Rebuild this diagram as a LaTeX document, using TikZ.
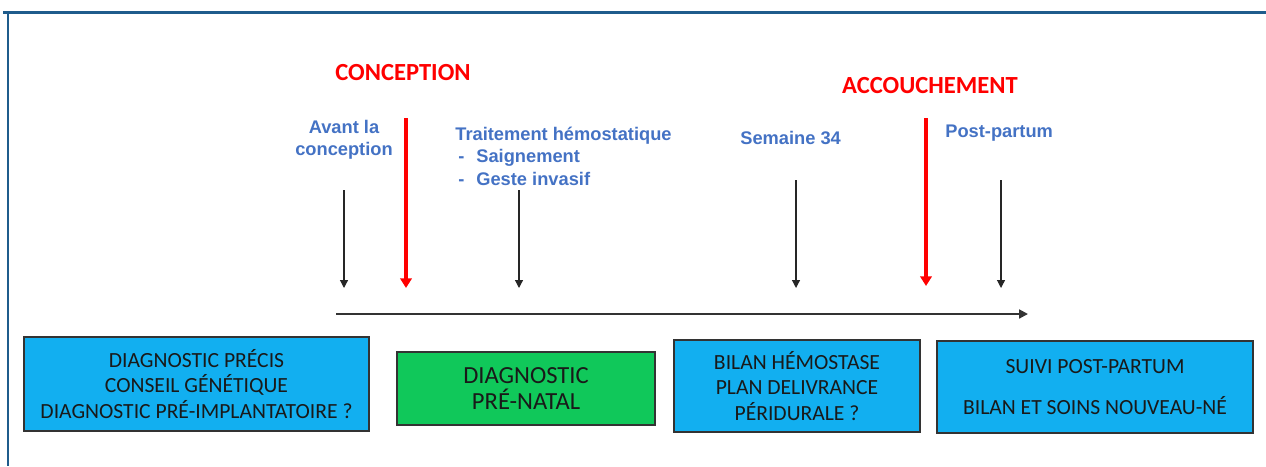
\documentclass[tikz,border=0pt]{standalone}
\usepackage{fontspec}
\setmainfont{Carlito}
\newfontfamily\arialb{Liberation Sans}[BoldFont={* Bold}]
\usetikzlibrary{arrows.meta,shadows}
\definecolor{frameblue}{RGB}{31,92,140}
\definecolor{boxblue}{RGB}{18,175,240}
\definecolor{boxgreen}{RGB}{16,200,90}
\definecolor{lblblue}{RGB}{68,114,196}
\definecolor{mred}{RGB}{255,0,0}
\tikzset{
  frameline/.style={draw=frameblue,line width=1.2pt},
  phase/.style={draw=black!80,line width=0.6pt,fill=boxblue,align=center,inner sep=0pt,
    font=\fontsize{12.3}{14.6}\selectfont,text=black!90,
    drop shadow={opacity=0.25,shadow xshift=0.8pt,shadow yshift=-0.8pt}},
  greenphase/.style={phase,fill=boxgreen,font=\fontsize{14}{14.4}\selectfont},
  event/.style={text=mred,font=\fontsize{14}{16}\bfseries\selectfont},
  lbl/.style={text=lblblue,inner sep=0pt,font=\arialb\fontsize{10.4}{12.3}\bfseries\selectfont},
  tick/.style={draw=black!85,line width=0.7pt,-{Triangle[width=4.5pt,length=4.5pt]}},
  redtick/.style={draw=mred,line width=1.8pt,-{Triangle[width=6.5pt,length=5.5pt]}},
  axis/.style={draw=black!80,line width=1.1pt,-{Triangle[width=5pt,length=5pt]}}
}
\begin{document}
\begin{tikzpicture}[x=0.02cm,y=-0.02cm]
\useasboundingbox (0,0) rectangle (1266,466);
% frame
\draw[frameline,line width=1.6pt] (3,12.5) -- (1266,12.5);
\draw[frameline] (8,12) -- (8,466);
% events
\node[event,anchor=base] (conc) at (403,81) {CONCEPTION};
\node[event,anchor=base] (acc) at (930,93) {ACCOUCHEMENT};
% labels
\node[lbl,anchor=base,align=center] (avant) at (344,155) {Avant la\\conception};
\node[lbl,anchor=base west] (trait) at (455,140) {Traitement hémostatique};
\node[lbl,anchor=base west] (d1) at (458,162.5) {-};
\node[lbl,anchor=base west] (saig) at (476,162.5) {Saignement};
\node[lbl,anchor=base west] (d2) at (458,185) {-};
\node[lbl,anchor=base west] (geste) at (476,185) {Geste invasif};
\node[lbl,anchor=base west] (sem) at (740,144) {Semaine 34};
\node[lbl,anchor=base west] (post) at (945,137) {Post-partum};
% tick coordinates
\coordinate (a1s) at (344,190); \coordinate (a1e) at (344,288);
\coordinate (r1s) at (406,118); \coordinate (r1e) at (406,288);
\coordinate (a2s) at (519,190); \coordinate (a2e) at (519,288);
\coordinate (a3s) at (796,180); \coordinate (a3e) at (796,288);
\coordinate (r2s) at (926,118); \coordinate (r2e) at (926,286);
\coordinate (a4s) at (1001,180); \coordinate (a4e) at (1001,288);
\coordinate (ts) at (336,314); \coordinate (te) at (1028,314);
\draw[tick] (a1s) -- (a1e);
\draw[tick] (a2s) -- (a2e);
\draw[tick] (a3s) -- (a3e);
\draw[tick] (a4s) -- (a4e);
\draw[redtick] (r1s) -- (r1e);
\draw[redtick] (r2s) -- (r2e);
\draw[axis] (ts) -- (te);
% boxes
\node[phase,minimum width=345*0.02cm,minimum height=94*0.02cm] (b1) at (196.5,384)
  {DIAGNOSTIC PRÉCIS\\CONSEIL GÉNÉTIQUE\\DIAGNOSTIC PRÉ-IMPLANTATOIRE ?};
\node[greenphase,minimum width=258*0.02cm,minimum height=73*0.02cm] (b2) at (526,388.5)
  {DIAGNOSTIC\\PRÉ-NATAL};
\node[phase,minimum width=246*0.02cm,minimum height=92*0.02cm] (b3) at (797,386)
  {BILAN HÉMOSTASE\\PLAN DELIVRANCE\\PÉRIDURALE ?};
\node[phase,minimum width=316*0.02cm,minimum height=92*0.02cm] (b4) at (1095,387)
  {SUIVI POST-PARTUM\\[9pt]BILAN ET SOINS NOUVEAU-NÉ};
\end{tikzpicture}
\end{document}
